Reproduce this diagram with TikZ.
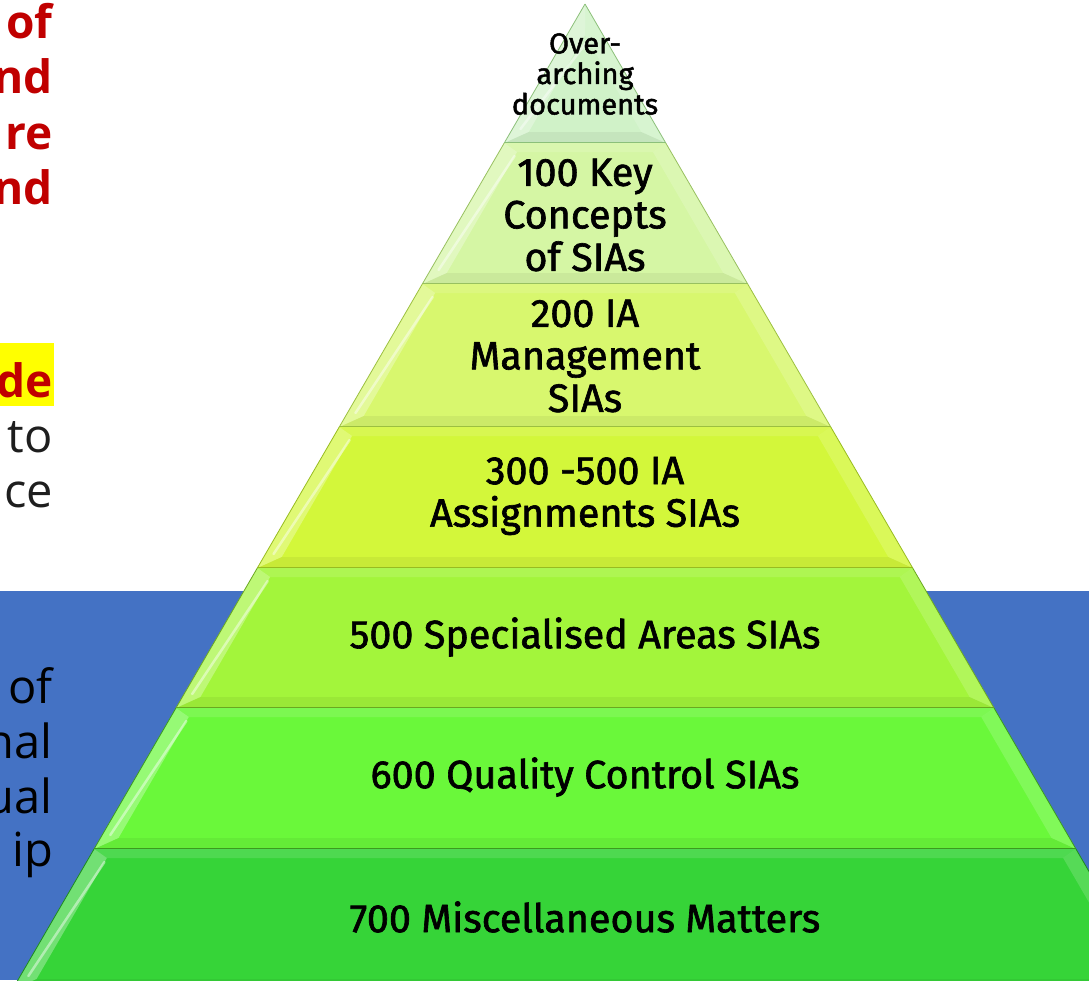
\documentclass[tikz,border=0pt]{standalone}
\usepackage{fontspec}
\setmainfont{Fira Sans}
\newfontfamily\labfont{Fira Sans}[FakeBold=1.6]
\newfontfamily\sidefont{Open Sans}
\definecolor{bluebg}{HTML}{4472C4}
\definecolor{sidered}{HTML}{C00000}
\definecolor{sidegrey}{HTML}{1E1E1E}
\definecolor{hl}{HTML}{FFFF00}
\definecolor{cA}{HTML}{D0F2C8}\definecolor{lA}{HTML}{8CC07A}
\definecolor{cB}{HTML}{D5F6A4}\definecolor{lB}{HTML}{98C060}
\definecolor{cC}{HTML}{D8F76E}\definecolor{lC}{HTML}{9CC040}
\definecolor{cD}{HTML}{D3F73A}\definecolor{lD}{HTML}{98BC20}
\definecolor{cE}{HTML}{A3F53B}\definecolor{lE}{HTML}{6AA820}
\definecolor{cF}{HTML}{6AF83A}\definecolor{lF}{HTML}{3C9A1E}
\definecolor{cG}{HTML}{36D438}\definecolor{lG}{HTML}{1E8A1E}
\newcommand{\pyrlayer}[5]{%
 \pgfmathsetmacro\xlt{585-0.581*(#1-4)}%
 \pgfmathsetmacro\xrt{585+0.581*(#1-4)}%
 \pgfmathsetmacro\xlb{585-0.581*(#2-4)}%
 \pgfmathsetmacro\xrb{585+0.581*(#2-4)}%
 \pgfmathsetmacro\yti{#5}%
 \pgfmathsetmacro\ybi{#2-11}%
 \pgfmathsetmacro\xlti{585-0.581*(\yti-4)+18}%
 \pgfmathsetmacro\xrti{585+0.581*(\yti-4)-18}%
 \pgfmathsetmacro\xlbi{585-0.581*(\ybi-4)+18}%
 \pgfmathsetmacro\xrbi{585+0.581*(\ybi-4)-18}%
 \fill[#3] (\xlt,#1) -- (\xrt,#1) -- (\xrb,#2) -- (\xlb,#2) -- cycle;
 \fill[white,opacity=.30] (\xlt,#1) -- (\xlti,\yti) -- (\xlbi,\ybi) -- (\xlb,#2) -- cycle;
 \fill[white,opacity=.16] (\xrt,#1) -- (\xrti,\yti) -- (\xrbi,\ybi) -- (\xrb,#2) -- cycle;
 \fill[white,opacity=.12] (\xlt,#1) -- (\xrt,#1) -- (\xrti,\yti) -- (\xlti,\yti) -- cycle;
 \fill[black,opacity=.05] (\xlb,#2) -- (\xrb,#2) -- (\xrbi,\ybi) -- (\xlbi,\ybi) -- cycle;
 \draw[white,opacity=.45,line width=2.5pt,line cap=round]
   ({(\xlb+\xlbi)/2+4},{#2-14}) -- ({(\xlt+\xlti)/2+4},{\yti+4});
 \draw[#4,line width=0.8pt] (\xlt,#1) -- (\xlb,#2);
 \draw[#4,line width=0.8pt] (\xrt,#1) -- (\xrb,#2);
 \draw[#4,line width=2pt] (\xlb,#2) -- (\xrb,#2);
}
\begin{document}
\begin{tikzpicture}[x=1pt,y=-1pt,
  lbl/.style={align=center,text=black,inner sep=0pt,font=\labfont\fontsize{39.5}{42.5}\selectfont},
  toplbl/.style={align=center,text=black,inner sep=0pt,font=\labfont\fontsize{29}{30.5}\selectfont},
  redtxt/.style={anchor=base east,inner sep=0pt,text=sidered,font=\sidefont\bfseries\fontsize{46}{50}\selectfont},
  greytxt/.style={anchor=base east,inner sep=0pt,text=sidegrey,font=\sidefont\fontsize{47}{50}\selectfont},
  blacktxt/.style={anchor=base east,inner sep=0pt,text=black,font=\sidefont\fontsize{47}{50}\selectfont}]
\useasboundingbox (0,0) rectangle (1089,980);
\clip (0,0) rectangle (1089,980);
\fill[white] (0,0) rectangle (1089,980);
\fill[bluebg] (0,591) rectangle (1089,980);
% left side text fragments
\node[redtxt] (r1) at (53,38) {of};
\node[redtxt] (r2) at (53,93) {nd};
\node[redtxt] (r3) at (53,149) {re};
\node[redtxt] (r4) at (53,204) {nd};
\fill[hl] (0,343) rectangle (54,406);
\node[redtxt] (r5) at (53,397) {de};
\node[greytxt] (g1) at (53,452) {to};
\node[greytxt] (g2) at (53,507) {ce};
\node[blacktxt] (b1) at (53,703) {of};
\node[blacktxt] (b2) at (53,758) {nal};
\node[blacktxt] (b3) at (53,813) {ual};
\node[blacktxt] (b4) at (53,866) {ip};
% pyramid layers
\pyrlayer{4}{143}{cA}{lA}{35}
\pyrlayer{143}{284}{cB}{lB}{152}
\pyrlayer{284}{427}{cC}{lC}{293}
\pyrlayer{427}{568}{cD}{lD}{436}
\pyrlayer{568}{708}{cE}{lE}{577}
\pyrlayer{708}{849}{cF}{lF}{717}
\pyrlayer{849}{990}{cG}{lG}{858}
% labels
\node[toplbl] (t0) at (585,74) {Over-\\arching\\documents};
\node[lbl] (t1) at (585,215) {100 Key\\Concepts\\of SIAs};
\node[lbl] (t2) at (585,356) {200 IA\\Management\\SIAs};
\node[lbl] (t3) at (585,496) {300 -500 IA\\Assignments SIAs};
\node[lbl] (t4) at (585,637) {500 Specialised Areas SIAs};
\node[lbl] (t5) at (585,777) {600 Quality Control SIAs};
\node[lbl] (t6) at (585,917) {700 Miscellaneous Matters};
\end{tikzpicture}
\end{document}
